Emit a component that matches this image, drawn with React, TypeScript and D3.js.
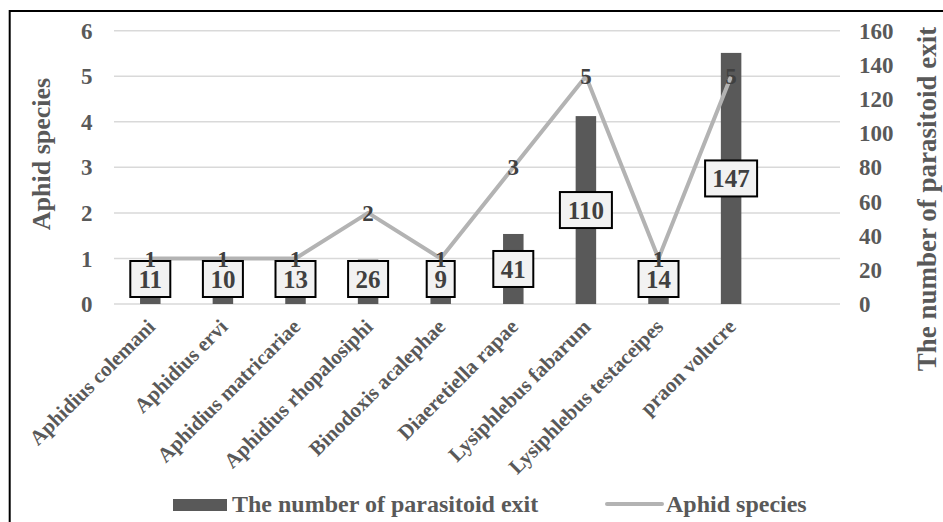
import React from "react";
import * as d3 from "d3";

const categories = [
  "Aphidius colemani",
  "Aphidius ervi",
  "Aphidius matricariae",
  "Aphidius rhopalosiphi",
  "Binodoxis acalephae",
  "Diaeretiella rapae",
  "Lysiphlebus fabarum",
  "Lysiphlebus testaceipes",
  "praon volucre",
];
const parasitoidExit = [11, 10, 13, 26, 9, 41, 110, 14, 147];
const aphidSpecies = [1, 1, 1, 2, 1, 3, 5, 1, 5];
const leftTicks = [0, 1, 2, 3, 4, 5, 6];
const rightTicks = [0, 20, 40, 60, 80, 100, 120, 140, 160];
const legendLabels = ["The number of parasitoid exit", "Aphid species"];
const leftTitle = "Aphid species";
const rightTitle = "The number of parasitoid exit";

const W = 943;
const H = 522;
const plotL = 114;
const plotR = 840;
const plotT = 30.7;
const plotB = 304;
const FONT = "'Liberation Serif', 'Times New Roman', serif";

export default function App() {
  const slots = 10;
  const step = (plotR - plotL) / slots;
  const x = d3
    .scaleBand<string>()
    .domain(categories)
    .range([plotL, plotL + step * categories.length])
    .paddingInner(0)
    .paddingOuter(0);
  const barW = 20.5;
  const yL = d3.scaleLinear().domain([0, 6]).range([plotB, plotT]);
  const yR = d3.scaleLinear().domain([0, 160]).range([plotB, plotT]);
  const cx = (c: string) => (x(c) as number) + x.bandwidth() / 2;

  const line = d3
    .line<number>()
    .x((_, i) => cx(categories[i]))
    .y((d) => yL(d));

  return (
    <svg
      width={W}
      height={H}
      style={{ position: "absolute", left: 0, top: 0, background: "#fff" }}
      fontFamily={FONT}
      fontWeight="bold"
    >
      <rect x={0} y={0} width={W} height={H} fill="#fff" />
      <rect x={9.7} y={11} width={W + 20} height={H + 20} fill="none" stroke="#000" strokeWidth={2} />

      {/* gridlines */}
      {leftTicks.map((t) => (
        <line key={t} x1={plotL} x2={plotR} y1={yL(t)} y2={yL(t)} stroke="#d9d9d9" strokeWidth={1.5} />
      ))}

      {/* left ticks */}
      {leftTicks.map((t) => (
        <text key={"l" + t} x={92.5} y={yL(t)} dy="0.35em" textAnchor="end" fontSize={23} fill="#595959">
          {t}
        </text>
      ))}
      {/* right ticks */}
      {rightTicks.map((t) => (
        <text key={"r" + t} x={859} y={yR(t)} dy="0.35em" textAnchor="start" fontSize={23} fill="#595959">
          {t}
        </text>
      ))}

      {/* axis titles */}
      <text
        transform={`translate(50,154) rotate(-90)`}
        textAnchor="middle"
        fontSize={26}
        fill="#595959"
      >
        {leftTitle}
      </text>
      <text
        transform={`translate(936,199) rotate(-90)`}
        textAnchor="middle"
        fontSize={27}
        fill="#595959"
      >
        {rightTitle}
      </text>

      {/* bars */}
      {categories.map((c, i) => (
        <rect
          key={c}
          x={cx(c) - barW / 2}
          y={yR(parasitoidExit[i])}
          width={barW}
          height={plotB - yR(parasitoidExit[i])}
          fill="#595959"
        />
      ))}

      {/* line */}
      <path d={line(aphidSpecies) || ""} fill="none" stroke="#b3b3b3" strokeWidth={4} strokeLinejoin="round" />

      {/* bar labels */}
      {categories.map((c, i) => {
        const v = parasitoidExit[i];
        const mid = (yR(v) + plotB) / 2;
        const cy = Math.min(mid, 279);
        const txt = String(v);
        const w = txt.length * 12 + 16;
        return (
          <g key={"bl" + c}>
            <rect x={cx(c) - w / 2} y={cy - 18} width={w} height={36} fill="#f2f2f2" stroke="#000" strokeWidth={2} />
            <text x={cx(c)} y={cy} dy="0.35em" textAnchor="middle" fontSize={25} fill="#404040">
              {txt}
            </text>
          </g>
        );
      })}

      {/* line labels */}
      {categories.map((c, i) => (
        <text
          key={"ll" + c}
          x={cx(c)}
          y={yL(aphidSpecies[i])}
          dy="0.35em"
          textAnchor="middle"
          fontSize={23}
          fill="#404040"
        >
          {aphidSpecies[i]}
        </text>
      ))}

      {/* x labels */}
      {categories.map((c) => (
        <text
          key={"x" + c}
          transform={`translate(${cx(c) + 6},${328}) rotate(-45)`}
          textAnchor="end"
          fontSize={21}
          fill="#595959"
        >
          {c}
        </text>
      ))}

      {/* legend */}
      <rect x={173} y={499} width={54} height={12} fill="#595959" />
      <text x={232} y={512} fontSize={24} fill="#595959">
        {legendLabels[0]}
      </text>
      <line x1={607} x2={662} y1={504} y2={504} stroke="#b3b3b3" strokeWidth={4} strokeLinecap="round" />
      <text x={666} y={512} fontSize={24} fill="#595959">
        {legendLabels[1]}
      </text>
    </svg>
  );
}
